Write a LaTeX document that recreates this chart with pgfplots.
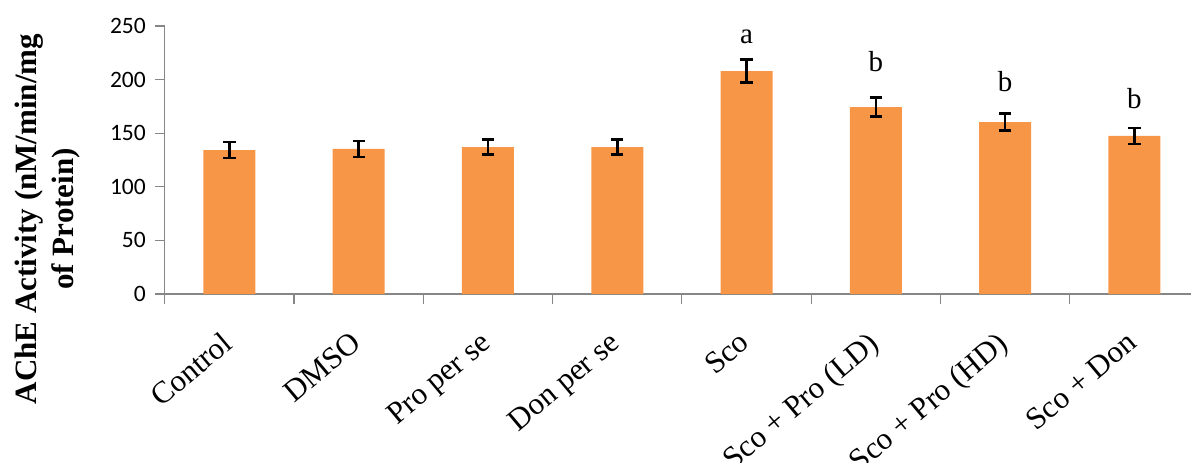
\documentclass[border=0pt]{standalone}
\usepackage{pgfplots}
\pgfplotsset{compat=1.18}
\usepackage{pgfplotstable}
\usepackage{fontspec}
\setmainfont{Liberation Serif}
\newfontfamily\carlito{Carlito}

\definecolor{barorange}{HTML}{F79646}
\definecolor{axisgray}{HTML}{868686}

% mean AChE activity and SEM per group
\pgfplotstableread{
x   y      e
0   134.3  7.5
1   135.3  7.5
2   137.1  7.0
3   137.1  7.0
4   208.0  10.5
5   174.4  9.0
6   160.4  8.0
7   147.4  7.5
}\achedata

\begin{document}
\begin{tikzpicture}
\begin{axis}[
  at={(0pt,0pt)}, anchor=south west,
  scale only axis,
  width=1034.2pt, height=268pt,
  xmin=-0.5, xmax=7.5,
  ymin=0, ymax=250,
  clip=false,
  axis x line*=bottom,
  axis y line*=left,
  axis line style={draw=axisgray, line width=1.2pt},
  tick style={draw=axisgray, line width=1.2pt},
  tick align=outside,
  major tick length=9.5pt,
  ytick={0,50,...,250},
  /pgf/number format/assume math mode=true,
  yticklabel style={font=\carlito\fontsize{23.5}{28}\selectfont, xshift=-6pt},
  xtick={-0.5,0.5,...,7.5},
  xticklabels={},
  extra x ticks={0,1,2,3,4,5,6,7},
  extra x tick labels={Control,DMSO,Pro per se,Don per se,Sco,Sco + Pro (LD),Sco + Pro (HD),Sco + Don},
  extra x tick style={major tick length=0pt},
  xticklabel style={font=\fontsize{31}{37}\selectfont, yshift=-36pt, xshift=-9pt, rotate=40, anchor=north east, inner sep=0pt},
  ylabel={AChE Activity (nM/min/mg\\of Protein)},
  every axis y label/.style={at={(rel axis cs:-0.113,0.28)}, rotate=90, anchor=center, align=center, font=\bfseries\fontsize{31}{37}\selectfont},
  ybar, bar width=52pt,
]
\addplot[fill=barorange, draw=none,
  error bars/.cd, y dir=both, y explicit,
  error bar style={line width=2.6pt, black},
  error mark options={rotate=90, mark size=6.2pt, line width=2.6pt, black}]
  table[x=x, y=y, y error=e] {\achedata};

% significance letters
\node[anchor=base, font=\fontsize{29}{34}\selectfont] at (axis cs:4,234) {a};
\node[anchor=base, font=\fontsize{29}{34}\selectfont] at (axis cs:5,207.4) {b};
\node[anchor=base, font=\fontsize{29}{34}\selectfont] at (axis cs:6,188.7) {b};
\node[anchor=base, font=\fontsize{29}{34}\selectfont] at (axis cs:7,173.2) {b};
\end{axis}
\pgfresetboundingbox
\path[use as bounding box] (-164.8pt,-169pt) rectangle (1026.2pt,294pt);
\end{tikzpicture}
\end{document}
